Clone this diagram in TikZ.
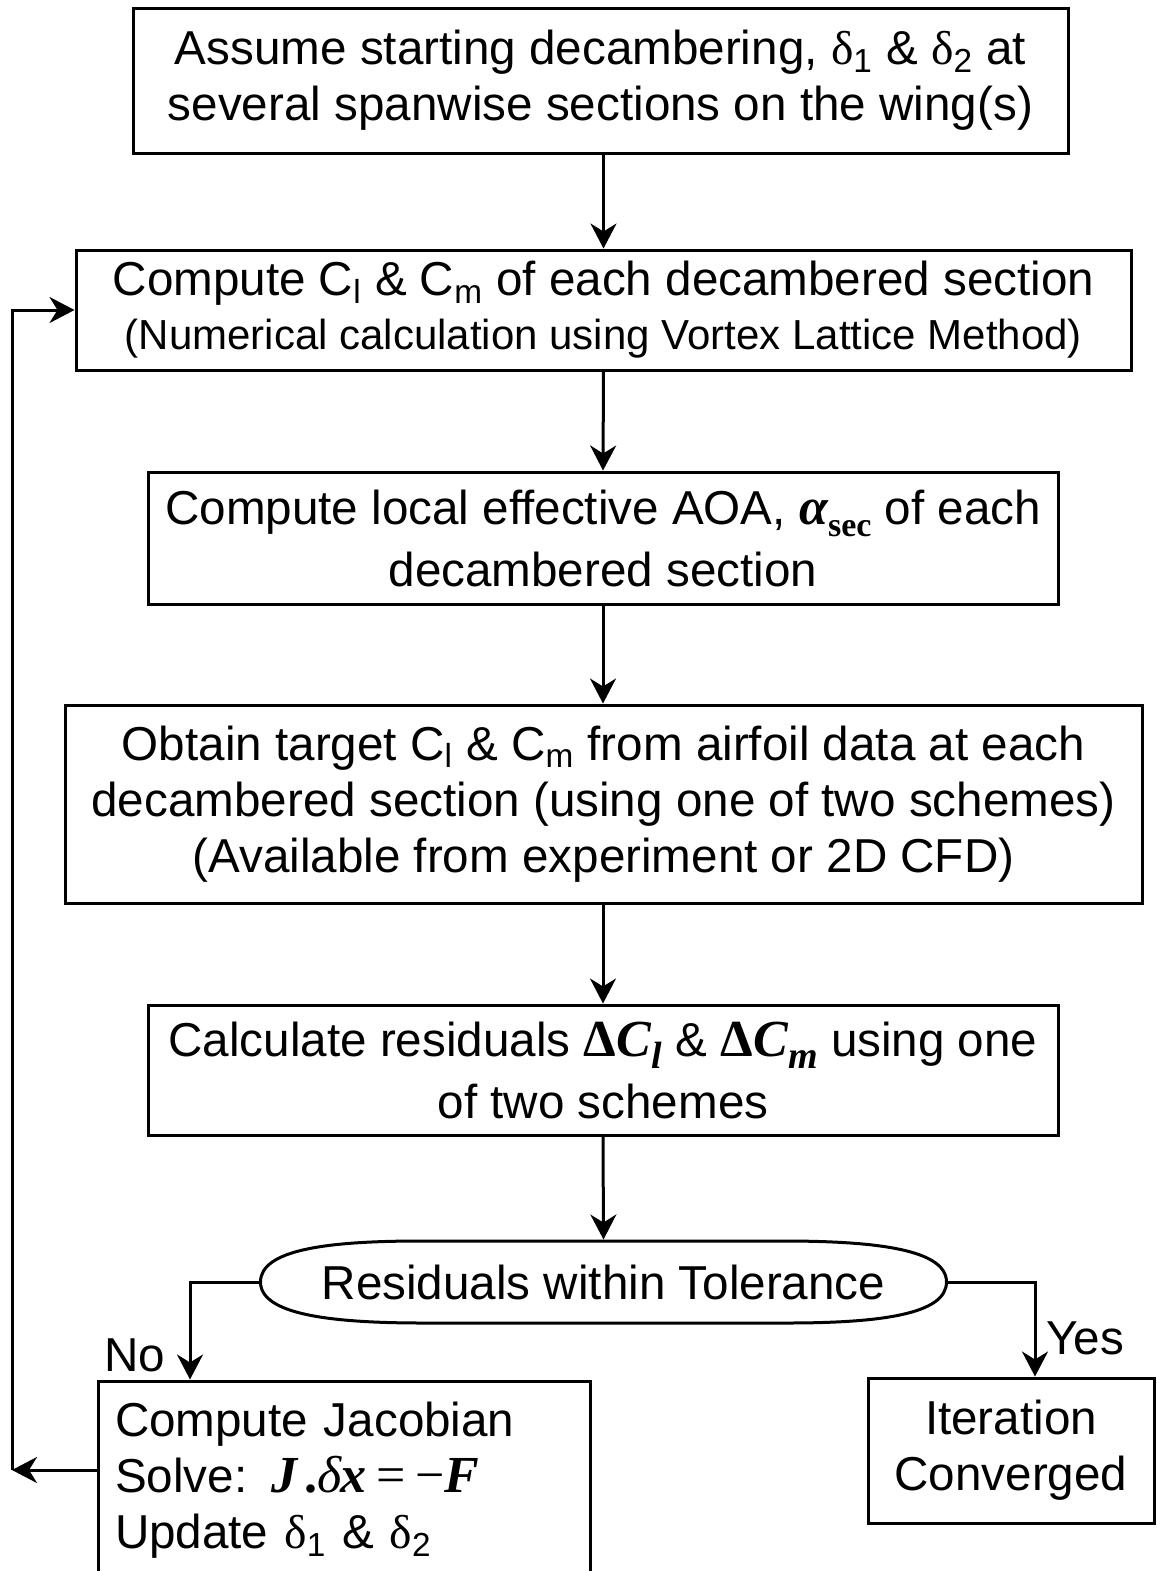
\documentclass[tikz,border=0pt]{standalone}
\usepackage{fontspec}
\setmainfont{Liberation Sans}
\newfontfamily\tnr{Liberation Serif}
\usetikzlibrary{arrows.meta,shapes.geometric}

\newcommand\dlt{{\tnr δ}}
\newcommand\asec{{\fontsize{26pt}{28pt}\selectfont\tnr\bfseries\itshape α}\raisebox{-6pt}{\fontsize{17pt}{17pt}\selectfont\tnr\bfseries sec}}
\newcommand\dC[1]{{\fontsize{26pt}{28pt}\selectfont\tnr\bfseries Δ\textit{C}}\raisebox{-6pt}{\fontsize{19pt}{19pt}\selectfont\tnr\bfseries\itshape #1}}
\newcommand\jac{{\fontsize{26pt}{28pt}\selectfont\tnr\textbf{\textit{J}}\kern3pt\textbf{.}\textit{δ}\kern-1pt\textbf{\textit{x}}\kern5pt=\kern5pt−\textbf{\textit{F}}}}

\begin{document}
\begin{tikzpicture}[x=0.5pt,y=-0.5pt,
  box/.style={draw, line width=1.5pt, inner sep=0pt, align=center,
    font=\fontsize{23.8pt}{28pt}\selectfont},
  lbl/.style={inner sep=0pt, font=\fontsize{23.8pt}{28pt}\selectfont},
  arr/.style={line width=1.5pt, -{Stealth[length=12.5pt,width=13pt,inset=4pt]}},
  ln/.style={line width=1.5pt}]
\useasboundingbox (0,0) rectangle (1157,1571);
\fill[white] (0,0) rectangle (1157,1571);

\node[box, minimum width=467.5pt, minimum height=72.5pt] (b1) at (600.5,80.5)
  {Assume starting decambering, \dlt\textsubscript{1} \& \dlt\textsubscript{2} at\\
   several spanwise sections on the wing(s)};
\node[box, minimum width=527.5pt, minimum height=60pt] (b2) at (603.5,310)
  {Compute C\textsubscript{l} \& C\textsubscript{m} of each decambered section\\[-1pt]
   {\fontsize{21pt}{25pt}\selectfont (Numerical calculation using Vortex Lattice Method)}};
\node[box, minimum width=455pt, minimum height=66pt] (b3) at (603,538)
  {Compute local effective AOA, \asec\ of each\\[3pt]
   decambered section};
\node[box, minimum width=538.5pt, minimum height=99pt] (b4) at (603.5,804)
  {Obtain target C\textsubscript{l} \& C\textsubscript{m} from airfoil data at each\\
   decambered section (using one of two schemes)\\
   (Available from experiment or 2D CFD)};
\node[box, minimum width=455pt, minimum height=65pt] (b5) at (603,1070)
  {Calculate residuals \dC{l} \& \dC{m} using one\\[3pt]
   of two schemes};
\node[box, draw=none, ellipse, minimum width=341.5pt, minimum height=41pt] (e) at (603.5,1282)
  {\makebox[0pt]{Residuals within Tolerance}};
\draw[ln] (e.west) .. controls +(0,-32) and +(-95,0) .. ++(160,-41) -- ++(363,0)
  .. controls +(95,0) and +(0,-32) .. (e.east)
  .. controls +(0,32) and +(95,0) .. ++(-160,41) -- ++(-363,0)
  .. controls +(-95,0) and +(0,32) .. (e.west) -- cycle;
\node[box, minimum width=246pt, minimum height=99.5pt, text width=229pt,
  align=left, inner xsep=8.5pt] (b6) at (344,1480.5)
  {Compute Jacobian\\
   Solve: \jac\\
   Update \dlt\textsubscript{1} \& \dlt\textsubscript{2}};
\node[box, minimum width=143pt, minimum height=72.5pt] (b7) at (1011,1450.5)
  {Iteration\\ Converged};

\node[lbl] (no) at (135,1355) {No};
\node[lbl] (yes) at (1085,1338) {Yes};

\coordinate (fb) at (12,1470);
\coordinate (nox) at (190,0);
\coordinate (yesx) at (1035,0);

\draw[arr] (b1.south -| b2.north) -- (b2.north);
\draw[arr] (b2.south) -- (b3.north);
\draw[arr] (b3.south) -- (b4.north -| b3.south);
\draw[arr] (b4.south -| b5.north) -- (b5.north);
\draw[arr] (b5.south) -- (e.north);
\draw[arr] (e.west) -| (b6.north -| nox);
\draw[arr] (e.east) -| (b7.north -| yesx);
\draw[arr] (b6.west |- fb) -- (fb);
\draw[arr] (fb) |- (b2.west);
\end{tikzpicture}
\end{document}
